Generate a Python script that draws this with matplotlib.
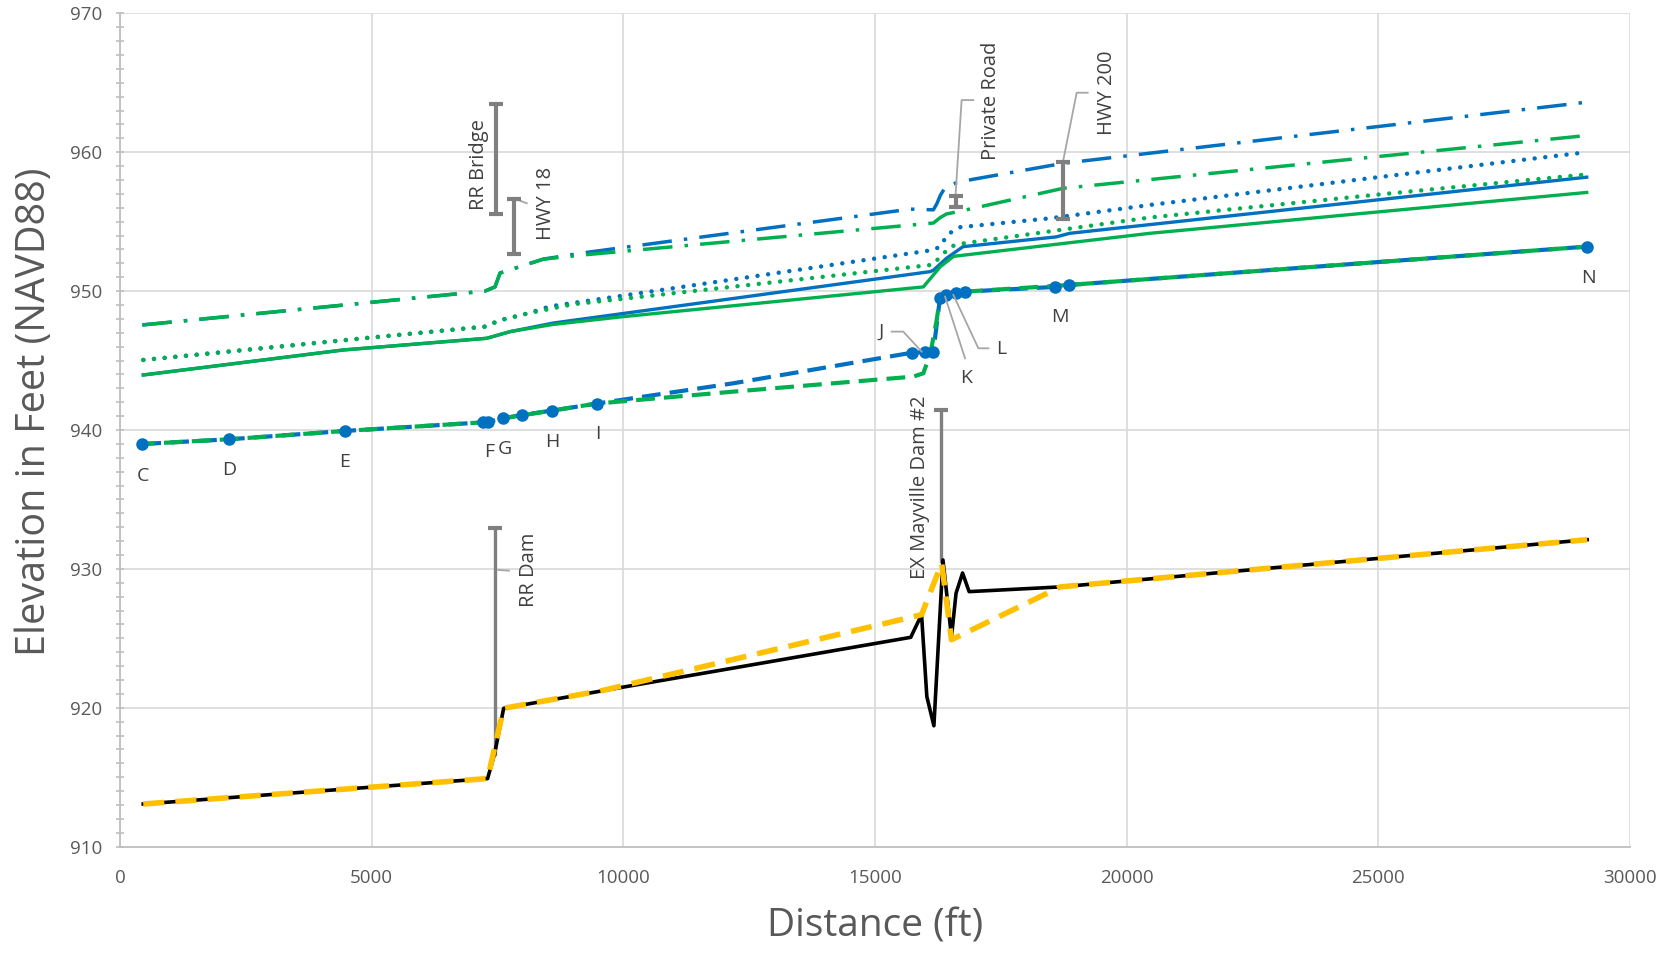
import matplotlib
matplotlib.use("Agg")
import matplotlib.pyplot as plt
from matplotlib.ticker import MultipleLocator

plt.rcParams['font.family'] = ['Open Sans', 'DejaVu Sans']

# ---------------- data (distance ft, elevation ft NAVD88) ----------------
blue_dashdot_x = [443, 7252, 7450, 7550, 8410, 9200, 15700, 16160, 16230, 16300, 16400, 16620, 16950, 18740, 29140]
blue_dashdot_y = [947.56, 950.0, 950.3, 951.3, 952.3, 952.75, 955.9, 955.85, 956.3, 956.9, 957.5, 957.8, 958.05, 959.2, 963.6]

green_dashdot_x = [443, 7252, 7450, 7550, 8410, 9200, 16160, 16300, 16420, 16690, 18740, 29140]
green_dashdot_y = [947.56, 950.0, 950.3, 951.3, 952.3, 952.6, 954.9, 955.3, 955.55, 955.75, 957.4, 961.2]

blue_dot_x = [463, 5033, 7252, 7550, 8110, 8544, 16160, 16290, 16450, 16690, 18480, 20465, 25000, 29140]
blue_dot_y = [945.04, 946.67, 947.44, 947.9, 948.4, 948.9, 952.96, 953.2, 954.1, 954.6, 955.24, 956.2, 958.2, 960.0]

green_dot_x = [463, 5033, 7252, 7550, 8110, 9000, 16160, 16225, 16500, 16690, 20465, 25000, 29140]
green_dot_y = [945.04, 946.67, 947.44, 947.9, 948.4, 949.05, 951.9, 952.2, 953.2, 953.4, 955.3, 956.95, 958.4]

blue_solid_x = [463, 4437, 7285, 7750, 8610, 16095, 16160, 16420, 16750, 18600, 18870, 29140]
blue_solid_y = [943.96, 945.76, 946.6, 947.08, 947.7, 951.4, 951.5, 952.36, 953.2, 953.9, 954.16, 958.2]

green_solid_x = [463, 4437, 7285, 7750, 8610, 10000, 15960, 16300, 16560, 20465, 25000, 29140]
green_solid_y = [943.96, 945.76, 946.6, 947.08, 947.6, 948.16, 950.3, 951.76, 952.5, 954.16, 955.7, 957.1]

blue_dash_x = [443, 2172, 4470, 7220, 7320, 7615, 7980, 8575, 9470, 12185, 15730, 15995, 16160, 16290, 16420, 16600, 16790, 18580, 18850, 29140]
blue_dash_y = [938.99, 939.33, 939.93, 940.55, 940.58, 940.84, 941.08, 941.39, 941.9, 943.36, 945.56, 945.6, 945.64, 949.48, 949.7, 949.85, 949.96, 950.3, 950.44, 953.2]

# cross-section markers on the blue dashed profile
xs_marker_x = [443, 2172, 4470, 7220, 7320, 7615, 7980, 8575, 9470, 15730, 15995, 16160, 16290, 16420, 16600, 16790, 18580, 18850, 29140]
xs_marker_y = [938.99, 939.33, 939.93, 940.55, 940.58, 940.84, 941.08, 941.39, 941.9, 945.56, 945.6, 945.64, 949.48, 949.7, 949.85, 949.96, 950.3, 950.44, 953.2]

green_dash_x = [443, 2172, 4470, 7220, 7615, 8575, 9470, 12185, 15760, 15960, 16100, 16225, 16290, 16420, 16790, 18850, 29140]
green_dash_y = [938.99, 939.33, 939.93, 940.55, 940.84, 941.39, 941.9, 942.76, 943.84, 944.08, 945.5, 947.9, 949.5, 949.7, 949.96, 950.44, 953.2]

bed_existing_x = [461, 7303, 7443, 7622, 10020, 15710, 15925, 16030, 16170, 16350, 16520, 16610, 16740, 16870, 18680, 29150]
bed_existing_y = [913.07, 914.9, 916.7, 919.96, 921.5, 925.07, 926.7, 920.8, 918.7, 930.64, 925.1, 928.24, 929.7, 928.36, 928.7, 932.1]

bed_proposed_x = [461, 7303, 7622, 9600, 15925, 16325, 16520, 18680, 29150]
bed_proposed_y = [913.07, 914.9, 919.96, 921.25, 926.7, 930.4, 924.9, 928.7, 932.1]

section_labels = ['C', 'D', 'E', 'F', 'G', 'H', 'I', 'J', 'K', 'L', 'M', 'N']

# structures: name, station, low elevation, high elevation
struct_names = ['RR Bridge', 'HWY 18', 'Private Road', 'HWY 200']
struct_x = [7479, 7818, 16600, 18740]
struct_low = [955.55, 952.65, 956.08, 955.17]
struct_high = [963.5, 956.63, 956.87, 959.3]

dam_names = ['RR Dam', 'EX Mayville Dam #2']
dam_x = [7443, 16312]
dam_low = [916.7, 930.6]
dam_high = [932.92, 941.44]

x_ticks = [0, 5000, 10000, 15000, 20000, 25000, 30000]
y_ticks = [910, 920, 930, 940, 950, 960, 970]

# ---------------- styling ----------------
BLUE = '#0070C0'
GREEN = '#00B050'
YELLOW = '#FFC000'
BARGREY = '#7f7f7f'
LEADER = '#a6a6a6'
TXT = '#404040'

fig = plt.figure(figsize=(16.74, 9.56), dpi=100)
ax = fig.add_axes([0.0717, 0.1144, 0.902, 0.8717])
ax.set_xlim(x_ticks[0], x_ticks[-1])
ax.set_ylim(y_ticks[0], y_ticks[-1])
ax.set_xticks(x_ticks)
ax.set_yticks(y_ticks)
ax.set_xticklabels([str(v) for v in x_ticks])
ax.set_yticklabels([str(v) for v in y_ticks])
ax.yaxis.set_minor_locator(MultipleLocator(1))
ax.grid(True, which='major', color='#d9d9d9', lw=1.2)
ax.set_axisbelow(True)
for s in ['top', 'right']:
    ax.spines[s].set_visible(False)
for s in ['left', 'bottom']:
    ax.spines[s].set_color('#bfbfbf')
    ax.spines[s].set_linewidth(1.3)
ax.tick_params(axis='y', which='both', direction='inout', length=6, width=1.2,
               color='#bfbfbf', labelsize=13.5, labelcolor='#595959', pad=10)
ax.tick_params(axis='x', which='both', length=0, labelsize=13.5,
               labelcolor='#595959', pad=16)

dashdot = (0, (8.5, 3.5, 1, 3.5))
dotted = (0, (0.01, 2.4))
dashed = (0, (4.5, 2.2))
ydash = (0, (3.8, 2.0))

# upper water surface profiles
ax.plot(blue_dashdot_x, blue_dashdot_y, color=BLUE, lw=2.5, ls=dashdot, zorder=3)
ax.plot(green_dashdot_x, green_dashdot_y, color=GREEN, lw=2.5, ls=dashdot, zorder=3.1)
ax.plot(blue_dot_x, blue_dot_y, color=BLUE, lw=3.2, ls=dotted, dash_capstyle='round', zorder=3)
ax.plot(green_dot_x, green_dot_y, color=GREEN, lw=3.2, ls=dotted, dash_capstyle='round', zorder=3.1)
ax.plot(blue_solid_x, blue_solid_y, color=BLUE, lw=2.4, zorder=3)
ax.plot(green_solid_x, green_solid_y, color=GREEN, lw=2.4, zorder=3.1)

# lower profiles
ax.plot(blue_dash_x, blue_dash_y, color=BLUE, lw=3.0, ls=dashed, zorder=3.2)
ax.plot(green_dash_x, green_dash_y, color=GREEN, lw=3.0, ls=(1.5, (4.5, 2.2)), zorder=3.3)
ax.plot(xs_marker_x, xs_marker_y, ls='none', marker='o', ms=8, color=BLUE, zorder=3.4)

# bed profiles
ax.plot(bed_existing_x, bed_existing_y, color='black', lw=2.6, zorder=3.5)
ax.plot(bed_proposed_x, bed_proposed_y, color=YELLOW, lw=4.0, ls=ydash, zorder=3.6)

# structure bars
for x, lo, hi in zip(struct_x, struct_low, struct_high):
    mid = (lo + hi) / 2
    ax.errorbar([x], [mid], yerr=[[mid - lo], [hi - mid]], fmt='none', ecolor=BARGREY,
                elinewidth=3, capsize=4.8, capthick=3, zorder=5)
for x, lo, hi in zip(dam_x, dam_low, dam_high):
    ax.plot([x, x], [lo, hi], color=BARGREY, lw=2.4, zorder=3.45)
    ax.plot([x], [hi], marker='_', ms=10, mew=3, color=BARGREY, zorder=3.45)

# rotated structure labels (layout positions)
rot_label_pos = {
    'RR Bridge': (7133, 959.08),
    'HWY 18': (8464, 956.34),
    'Private Road': (17300, 963.7),
    'HWY 200': (19604, 964.3),
    'RR Dam': (8126, 929.9),
    'EX Mayville Dam #2': (15895, 935.9),
}
for name, (tx, ty) in rot_label_pos.items():
    ax.text(tx, ty, name, rotation=90, ha='center', va='center',
            fontsize=14.5, color=TXT, zorder=6)

# leader lines
leaders = [
    ([7830, 7908, 8081], [956.6, 956.56, 956.32]),
    ([16952, 16721, 16600], [963.75, 963.75, 956.9]),
    ([19226, 19007, 18740], [964.28, 964.28, 959.4]),
    ([7516, 7729], [929.92, 929.87]),
    ([15332, 15562, 15927], [947.08, 947.08, 945.64]),
    ([16789, 16392], [945.16, 949.6]),
    ([17253, 17054, 16557], [945.88, 945.88, 949.72]),
]
for lx, ly in leaders:
    ax.plot(lx, ly, color=LEADER, lw=1.3, zorder=4)

# cross-section letters (layout positions)
letter_pos = [(457, 936.69), (2175, 937.14), (4467, 937.67), (7332, 938.44),
              (7650, 938.6), (8583, 939.14), (9497, 939.68), (15116, 947.06),
              (16809, 943.75), (17513, 945.83), (18665, 948.14), (29166, 950.97)]
for lab, (tx, ty) in zip(section_labels, letter_pos):
    ax.text(tx, ty, lab, ha='center', va='center', fontsize=14, color=TXT, zorder=6)

fig.text(35 / 1674, 1 - 412 / 956, 'Elevation in Feet (NAVD88)', rotation=90,
         ha='center', va='center', fontsize=28.5, color='#595959')
fig.text(875 / 1674, 1 - 927 / 956, 'Distance (ft)', ha='center', va='center',
         fontsize=28, color='#595959')

fig.savefig('out.png', dpi=100)
